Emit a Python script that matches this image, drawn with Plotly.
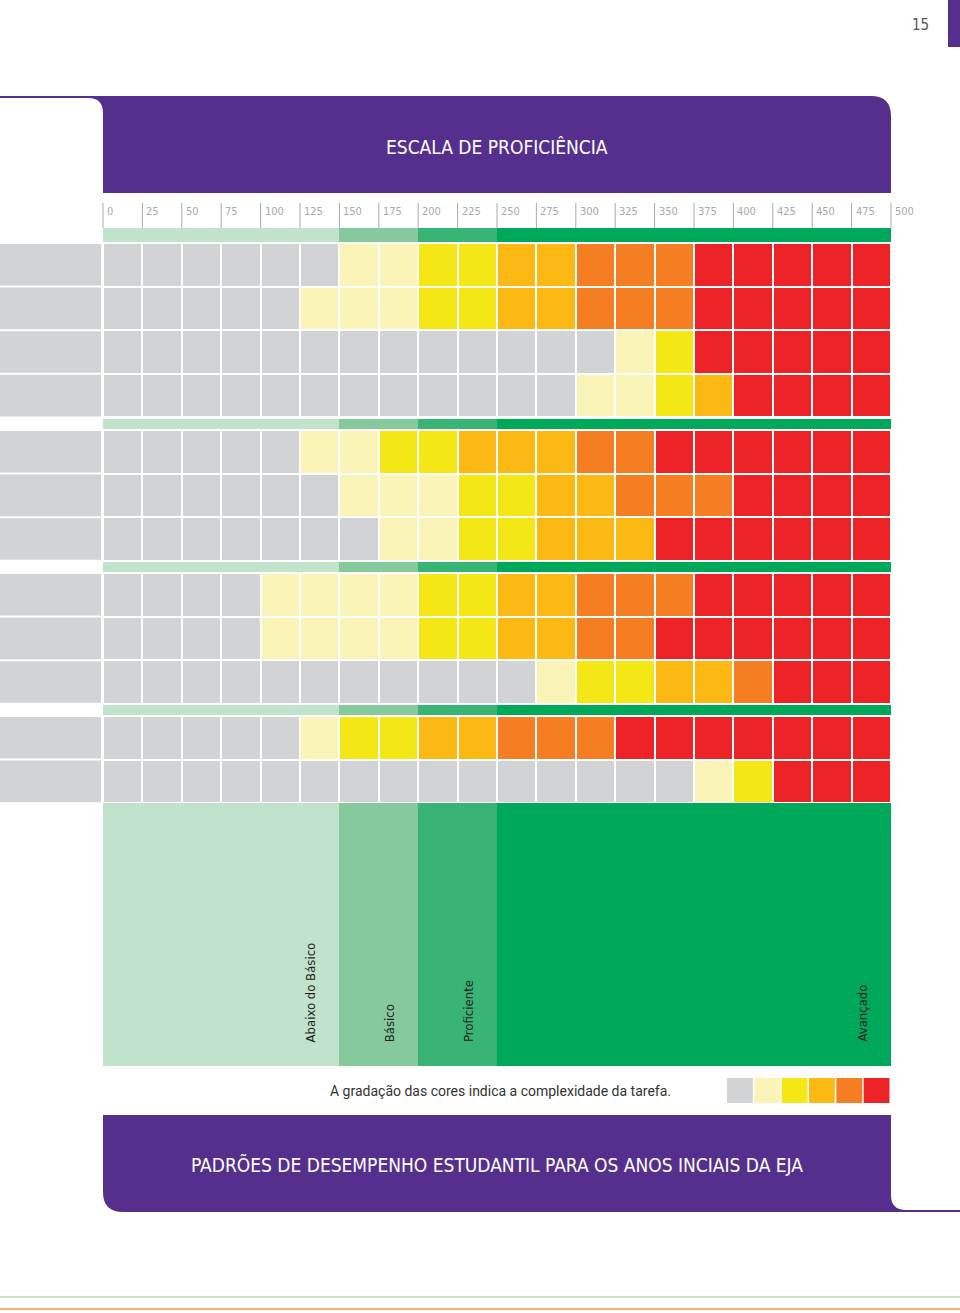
import plotly.graph_objects as go

# ---------------- data ----------------
tick_values = [0, 25, 50, 75, 100, 125, 150, 175, 200, 225, 250, 275, 300, 325, 350, 375, 400, 425, 450, 475, 500]
tick_labels = [str(v) for v in tick_values]

level_names = ["Abaixo do Básico", "Básico", "Proficiente", "Avançado"]
level_starts = [0, 150, 200, 250]
level_ends = [150, 200, 250, 500]
level_colors = ["#C1E2CB", "#85C99C", "#38B475", "#00A859"]

complexity_colors = ["#D1D3D4", "#FBF4B8", "#F5E616", "#FDB913", "#F47E21", "#EC2227"]

# complexity code per 25-point interval (0 = gray ... 5 = red), one list per skill row
group1 = [
    [0, 0, 0, 0, 0, 0, 1, 1, 2, 2, 3, 3, 4, 4, 4, 5, 5, 5, 5, 5],
    [0, 0, 0, 0, 0, 1, 1, 1, 2, 2, 3, 3, 4, 4, 4, 5, 5, 5, 5, 5],
    [0, 0, 0, 0, 0, 0, 0, 0, 0, 0, 0, 0, 0, 1, 2, 5, 5, 5, 5, 5],
    [0, 0, 0, 0, 0, 0, 0, 0, 0, 0, 0, 0, 1, 1, 2, 3, 5, 5, 5, 5],
]
group2 = [
    [0, 0, 0, 0, 0, 1, 1, 2, 2, 3, 3, 3, 4, 4, 5, 5, 5, 5, 5, 5],
    [0, 0, 0, 0, 0, 0, 1, 1, 1, 2, 2, 3, 3, 4, 4, 4, 5, 5, 5, 5],
    [0, 0, 0, 0, 0, 0, 0, 1, 1, 2, 2, 3, 3, 3, 5, 5, 5, 5, 5, 5],
]
group3 = [
    [0, 0, 0, 0, 1, 1, 1, 1, 2, 2, 3, 3, 4, 4, 4, 5, 5, 5, 5, 5],
    [0, 0, 0, 0, 1, 1, 1, 1, 2, 2, 3, 3, 4, 4, 5, 5, 5, 5, 5, 5],
    [0, 0, 0, 0, 0, 0, 0, 0, 0, 0, 0, 1, 2, 2, 3, 3, 4, 5, 5, 5],
]
group4 = [
    [0, 0, 0, 0, 0, 1, 2, 2, 3, 3, 4, 4, 4, 5, 5, 5, 5, 5, 5, 5],
    [0, 0, 0, 0, 0, 0, 0, 0, 0, 0, 0, 0, 0, 0, 0, 1, 2, 5, 5, 5],
]
groups = [group1, group2, group3, group4]

title_text = "ESCALA DE PROFICIÊNCIA"
footer_text = "PADRÕES DE DESEMPENHO ESTUDANTIL PARA OS ANOS INCIAIS DA EJA"
legend_text = "A gradação das cores indica a complexidade da tarefa."
page_number = "15"

# ---------------- layout geometry (pixels) ----------------
W, H = 960, 1313
X0_PX, X1_PX = 103, 891
PXU = (X1_PX - X0_PX) / 500.0          # pixels per scale unit
XMIN = -X0_PX / PXU
XMAX = (W - X0_PX) / PXU
def ux(px):  # pixel -> data x
    return (px - X0_PX) / PXU

PURPLE = "#552F8E"
FONT = "Liberation Sans Narrow, DejaVu Sans Condensed, Roboto Condensed, Arial Narrow, Roboto, sans-serif"

band_tops = [228, 419, 562, 705]
band_heights = [14, 10, 10, 10]
row_pitch = 43.6

fig = go.Figure()
shapes = []

# discrete colorscale
n = len(complexity_colors)
cscale = []
for i, c in enumerate(complexity_colors):
    cscale.append([i / n, c])
    cscale.append([(i + 1) / n, c])

x_edges = [i * 25 for i in range(21)]
for g, (rows, btop, bh) in enumerate(zip(groups, band_tops, band_heights)):
    # level band above the group (horizontal bars)
    fig.add_trace(go.Bar(
        orientation="h", y=[btop + bh / 2] * 4,
        x=[e - s for s, e in zip(level_starts, level_ends)], base=level_starts,
        width=[bh] * 4, marker=dict(color=level_colors, line=dict(width=0)),
        hoverinfo="skip", showlegend=False))
    ystart = btop + bh + 1
    y_edges = [ystart + i * row_pitch for i in range(len(rows) + 1)]
    fig.add_trace(go.Heatmap(
        z=rows, x=x_edges, y=y_edges, zmin=-0.5, zmax=n - 0.5,
        colorscale=cscale, showscale=False, xgap=2, ygap=2, hoverinfo="skip"))
    # gray label blocks at left
    for i in range(len(rows)):
        shapes.append(dict(type="rect", xref="x", yref="y", x0=XMIN, x1=ux(X0_PX - 2),
                           y0=y_edges[i] + 1, y1=y_edges[i + 1] - 1,
                           fillcolor=complexity_colors[0], line=dict(width=0), layer="below"))

# big level block at the bottom
big_top = band_tops[-1] + band_heights[-1] + 1 + len(group4) * row_pitch
big_bottom = 1066
fig.add_trace(go.Bar(
    orientation="h", y=[(big_top + big_bottom) / 2] * 4,
    x=[e - s for s, e in zip(level_starts, level_ends)], base=level_starts,
    width=[big_bottom - big_top] * 4, marker=dict(color=level_colors, line=dict(width=0)),
    hoverinfo="skip", showlegend=False))

annotations = []
for name, e in zip(level_names, level_ends):
    annotations.append(dict(x=e - ux(X0_PX + 29), y=1044, xref="x", yref="y", text=name,
                            textangle=-90, showarrow=False, xanchor="center", yanchor="bottom",
                            font=dict(family=FONT, size=13, color="#231F20")))

# tick marks and labels
for v, lab in zip(tick_values, tick_labels):
    shapes.append(dict(type="line", xref="x", yref="y", x0=v, x1=v, y0=203, y1=228,
                       line=dict(color="#A7A9AC", width=1)))
    annotations.append(dict(x=v + ux(X0_PX + 2), y=211, xref="x", yref="y", text=lab,
                            showarrow=False, xanchor="left", yanchor="middle",
                            font=dict(family=FONT, size=11, color="#A7A9AC")))

# header purple shape
shapes.append(dict(type="path", xref="x", yref="y", layer="below",
                   path=f"M {ux(0)},96 L {ux(871)},96 Q {ux(891)},96 {ux(891)},116 L {ux(891)},193 "
                        f"L {ux(103)},193 L {ux(103)},113 Q {ux(103)},98 {ux(88)},98 L {ux(0)},98 Z",
                   fillcolor=PURPLE, line=dict(width=0)))
annotations.append(dict(x=ux(497), y=147, xref="x", yref="y", text=title_text, showarrow=False,
                        font=dict(family=FONT, size=19, color="white")))

# footer purple shape
shapes.append(dict(type="path", xref="x", yref="y", layer="below",
                   path=f"M {ux(103)},1115 L {ux(891)},1115 L {ux(891)},1195 Q {ux(891)},1210 {ux(906)},1210 "
                        f"L {ux(960)},1210 L {ux(960)},1212 L {ux(123)},1212 Q {ux(103)},1212 {ux(103)},1192 Z",
                   fillcolor=PURPLE, line=dict(width=0)))
annotations.append(dict(x=ux(497), y=1165, xref="x", yref="y", text=footer_text, showarrow=False,
                        font=dict(family=FONT, size=19, color="white")))

# legend text + swatches
annotations.append(dict(x=ux(673), y=1091, xref="x", yref="y", text=legend_text, showarrow=False,
                        xanchor="right", yanchor="middle",
                        font=dict(family="Roboto, Noto Sans, sans-serif", size=14, color="#333333")))
sw_w = (891 - 727) / len(complexity_colors)
for i, c in enumerate(complexity_colors):
    shapes.append(dict(type="rect", xref="x", yref="y",
                       x0=ux(727 + i * sw_w), x1=ux(727 + (i + 1) * sw_w - 1.5),
                       y0=1078, y1=1103, fillcolor=c, line=dict(width=0)))

# page number and tab
annotations.append(dict(x=ux(920), y=25, xref="x", yref="y", text=page_number, showarrow=False,
                        font=dict(family=FONT, size=15, color="#555555")))
shapes.append(dict(type="rect", xref="x", yref="y", x0=ux(948), x1=ux(960), y0=0, y1=47,
                   fillcolor=PURPLE, line=dict(width=0)))

# bottom page lines
shapes.append(dict(type="line", xref="x", yref="y", x0=ux(0), x1=ux(960), y0=1297, y1=1297,
                   line=dict(color="#C9E4C5", width=2)))
shapes.append(dict(type="line", xref="x", yref="y", x0=ux(0), x1=ux(960), y0=1309, y1=1309,
                   line=dict(color="#F8B26A", width=2)))

fig.update_layout(
    width=W, height=H, margin=dict(l=0, r=0, t=0, b=0),
    paper_bgcolor="white", plot_bgcolor="white",
    barmode="overlay", bargap=0,
    xaxis=dict(range=[XMIN, XMAX], visible=False, fixedrange=True),
    yaxis=dict(range=[H, 0], visible=False, fixedrange=True),
    shapes=shapes, annotations=annotations, showlegend=False,
)
fig.write_html("out.html")
